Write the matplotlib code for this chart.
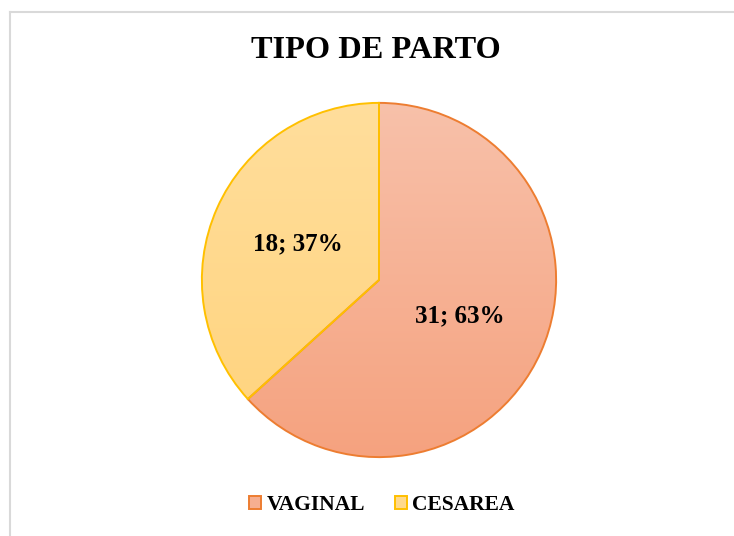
import matplotlib
matplotlib.use("Agg")
import matplotlib.pyplot as plt
import numpy as np
from matplotlib.lines import Line2D
from matplotlib.patches import Patch
from matplotlib.colors import LinearSegmentedColormap

categories = ["VAGINAL", "CESAREA"]
values = [31, 18]
percent_labels = ["63%", "37%"]
title = "TIPO DE PARTO"

top_colors = ["#F8C1AA", "#FFDE9C"]
bottom_colors = ["#F5A27F", "#FFD37C"]
edge_colors = ["#ED7D31", "#FFC000"]
legend_face = ["#F6AE90", "#FFD98C"]

plt.rcParams['font.family'] = ['Liberation Serif', 'DejaVu Serif']

W, H = 734, 536
fig = plt.figure(figsize=(W / 100, H / 100), dpi=100)

cx, cy, r = 379, 280, 178
ax = fig.add_axes([(cx - r) / W, (H - cy - r) / H, 2 * r / W, 2 * r / H])
ax.set_aspect('equal')
ax.axis('off')

wedges, _ = ax.pie(values, radius=1, startangle=90, counterclock=False,
                   colors=["none", "none"],
                   wedgeprops=dict(linewidth=1.4),
                   center=(0, 0))

for w, tc, bc, ec in zip(wedges, top_colors, bottom_colors, edge_colors):
    cmap = LinearSegmentedColormap.from_list("g", [bc, tc])
    grad = np.linspace(0, 1, 256).reshape(-1, 1)
    im = ax.imshow(grad, extent=(-1, 1, -1, 1), origin='lower', cmap=cmap,
                   aspect='auto', zorder=0)
    im.set_clip_path(w)
    w.set_edgecolor(ec)
    w.set_facecolor('none')
    w.set_zorder(2)

# value labels
total = sum(values)
angles = []
start = 90
for v in values:
    span = 360 * v / total
    mid = start - span / 2
    angles.append(mid)
    start -= span
for v, p, a in zip(values, percent_labels, angles):
    rad = np.deg2rad(a)
    ax.text(0.5 * np.cos(rad), 0.5 * np.sin(rad), f"{v}; {p}",
            ha='center', va='center', fontsize=18, fontweight='bold',
            zorder=5)

ax.set_xlim(-1.005, 1.005)
ax.set_ylim(-1.005, 1.005)

fig.text(376 / W, 1 - 50 / H, title, ha='center', va='center',
         fontsize=23.3, fontweight='bold')

handles = [Patch(facecolor=fc, edgecolor=ec, linewidth=1.4)
           for fc, ec in zip(legend_face, edge_colors)]
fig.legend(handles, categories, loc='center', ncol=2, frameon=False,
           bbox_to_anchor=(382 / W, 1 - 505 / H),
           prop=dict(family='Liberation Serif', weight='bold', size=15.5),
           handlelength=0.55, handleheight=0.55, handletextpad=0.25,
           columnspacing=1.4)

# chart border (top and left edges visible)
fig.add_artist(Line2D([9.5 / W, 9.5 / W], [0, 1 - 11.5 / H],
                      transform=fig.transFigure, color='#D9D9D9', linewidth=1.5))
fig.add_artist(Line2D([9.5 / W, 1], [1 - 11.5 / H, 1 - 11.5 / H],
                      transform=fig.transFigure, color='#D9D9D9', linewidth=1.5))

fig.savefig("out.png", dpi=100, facecolor='white')
